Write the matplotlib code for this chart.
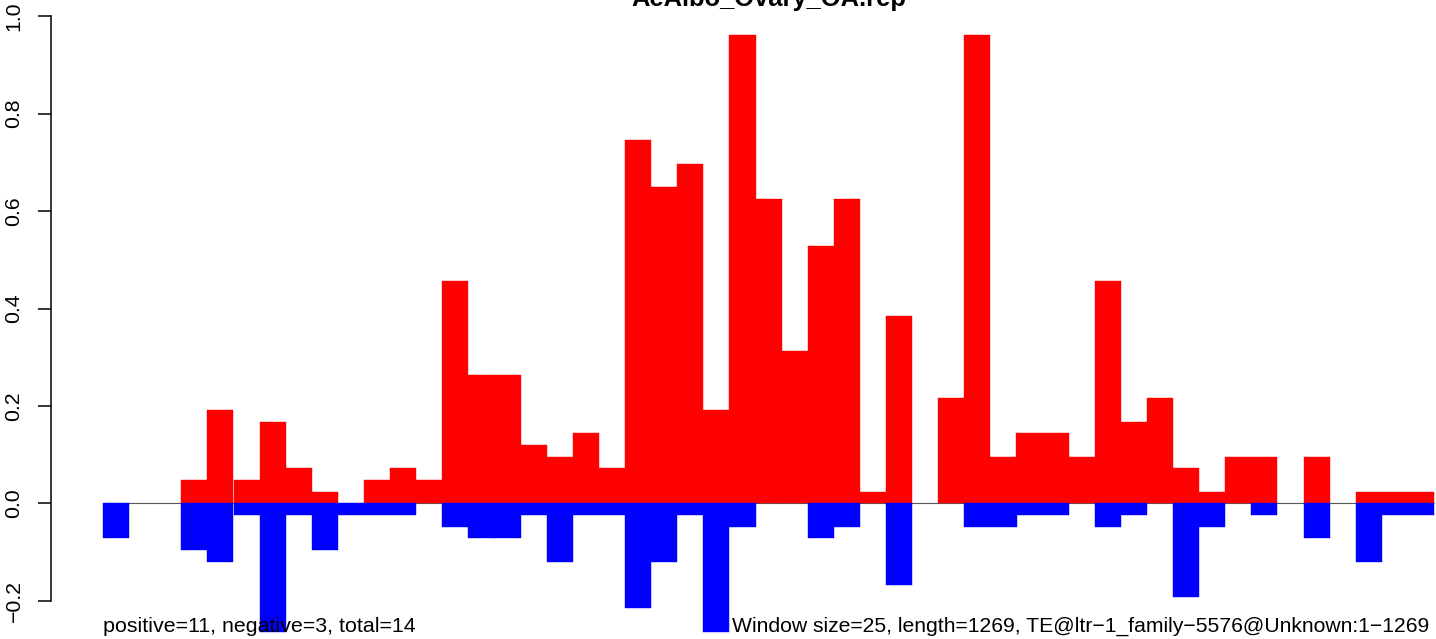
import numpy as np
import matplotlib
matplotlib.use("Agg")
import matplotlib.pyplot as plt
import matplotlib.transforms as mtransforms

plt.rcParams['font.family'] = ['Liberation Sans', 'DejaVu Sans']

# coverage per 25 bp window, positive (sense) and negative (antisense) strands
pos = [0, 0, 0, 0.048, 0.192, 0.048, 0.167, 0.072, 0.024, 0,
       0.048, 0.072, 0.048, 0.457, 0.264, 0.264, 0.120, 0.096, 0.144, 0.072,
       0.745, 0.649, 0.697, 0.192, 0.962, 0.625, 0.312, 0.529, 0.625, 0.024,
       0.385, 0, 0.216, 0.962, 0.096, 0.144, 0.144, 0.096, 0.457, 0.167,
       0.216, 0.072, 0.024, 0.096, 0.096, 0, 0.096, 0, 0.024, 0.024,
       0.024]
neg = [0.072, 0, 0, 0.096, 0.120, 0.024, 0.264, 0.024, 0.096, 0.024,
       0.024, 0.024, 0, 0.048, 0.072, 0.072, 0.024, 0.120, 0.024, 0.024,
       0.216, 0.120, 0.024, 0.264, 0.048, 0, 0, 0.072, 0.048, 0,
       0.168, 0, 0, 0.048, 0.048, 0.024, 0.024, 0, 0.048, 0.024,
       0, 0.192, 0.048, 0, 0.024, 0, 0.072, 0, 0.120, 0.024,
       0.024]
yticks = [-0.2, 0.0, 0.2, 0.4, 0.6, 0.8, 1.0]
ytick_labels = ["\u22120.2", "0.0", "0.2", "0.4", "0.6", "0.8", "1.0"]

title = "AeAlbo_Ovary_OA.rep"
left_note = "positive=11, negative=3, total=14"
right_note = "Window size=25, length=1269, TE@ltr\u22121_family\u22125576@Unknown:1\u22121269"

n = len(pos)
x = np.arange(n)
pos_a = np.array(pos)
neg_a = np.array(neg)

W, H = 1436, 639
fig = plt.figure(figsize=(W / 100, H / 100), dpi=100)
ax = fig.add_axes([50.7 / W, 0, 1 - 50.7 / W, 1])

bw = 26.1
ax.set_xlim(-(103 - 50.7) / bw, (W - 103) / bw)
ax.set_ylim((503.3 - H) / 487, 503.3 / 487)

ax.hlines(0, 0, n, color='#555555', lw=0.8, zorder=1)
# empty windows are skipped so their edges do not draw over the zero line
mp = pos_a > 0
mn = neg_a > 0
ax.bar(x[mp], pos_a[mp], width=1, align='edge', color='#FF0000', edgecolor='#FF0000',
       linewidth=0.3, zorder=2)
ax.bar(x[mn], -neg_a[mn], width=1, align='edge', color='#0000FF', edgecolor='#0000FF',
       linewidth=0.3, zorder=2)

for s in ['top', 'right', 'bottom']:
    ax.spines[s].set_visible(False)
ax.spines['left'].set_bounds(-0.2, 1.0)
ax.spines['left'].set_linewidth(1.1)
ax.set_xticks([])
ax.set_yticks(yticks)
ax.set_yticklabels(ytick_labels, rotation=90, va='center', fontsize=15.3)
ax.tick_params(axis='y', length=9.6, width=1.1, pad=10)

trans = mtransforms.blended_transform_factory(ax.transData, fig.transFigure)
ax.text(25.5, (H - 6) / H, title, transform=trans, ha='center', va='baseline',
        fontsize=18.4, fontweight='bold', zorder=5)
ax.text(0, (H - 632) / H, left_note, transform=trans, ha='left', va='baseline',
        fontsize=15.4, zorder=5)
ax.text(51 - 5 / bw, (H - 632) / H, right_note, transform=trans, ha='right', va='baseline',
        fontsize=15.25, zorder=5)

fig.savefig("out.png", dpi=100)
